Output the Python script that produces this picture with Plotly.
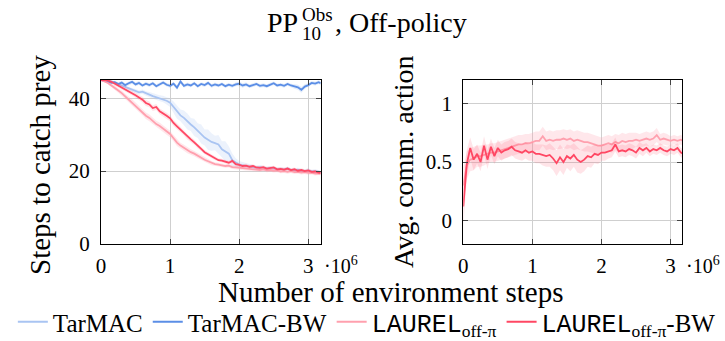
import plotly.graph_objects as go

# ---------------- data ----------------
steps_m = [0.00, 0.05, 0.10, 0.15, 0.20, 0.25, 0.30, 0.35, 0.40, 0.45,
           0.50, 0.55, 0.60, 0.65, 0.70, 0.75, 0.80, 0.85, 0.90, 0.95,
           1.00, 1.05, 1.10, 1.15, 1.20, 1.25, 1.30, 1.35, 1.40, 1.45,
           1.50, 1.55, 1.60, 1.65, 1.70, 1.75, 1.80, 1.85, 1.90, 1.95,
           2.00, 2.05, 2.10, 2.15, 2.20, 2.25, 2.30, 2.35, 2.40, 2.45,
           2.50, 2.55, 2.60, 2.65, 2.70, 2.75, 2.80, 2.85, 2.90, 2.95,
           3.00, 3.05, 3.10, 3.15, 3.18]
steps = [s * 1e6 for s in steps_m]

# Steps to catch prey (mean)
tarmac_steps = [45.0, 45.0, 44.8, 44.6, 44.2, 43.9, 43.4, 43.0, 42.6, 42.3,
                42.0, 41.6, 41.8, 41.3, 41.0, 40.6, 40.3, 40.0, 39.8, 39.3,
                38.8, 37.6, 36.2, 35.3, 34.6, 33.6, 32.8, 32.0, 31.1, 30.2,
                29.2, 28.6, 28.0, 27.7, 27.3, 26.0, 25.4, 24.8, 23.0, 22.3,
                21.8, 21.6, 21.3, 21.2, 21.0, 20.9, 21.1, 20.8, 20.7, 20.9,
                20.6, 20.5, 20.6, 20.4, 20.7, 20.3, 20.2, 20.4, 20.1, 20.0,
                20.2, 19.9, 20.0, 19.8, 19.7]
tarmac_steps_sd = [0.2, 0.2, 0.3, 0.3, 0.3, 0.4, 0.4, 0.4, 0.5, 0.5,
                   0.5, 0.6, 0.6, 0.6, 0.7, 0.7, 0.8, 0.8, 0.9, 1.0,
                   1.2, 1.5, 1.8, 1.6, 2.0, 2.2, 1.8, 2.4, 2.0, 2.6,
                   2.2, 2.8, 2.4, 2.0, 2.6, 2.2, 2.8, 2.0, 1.8, 1.2,
                   1.0, 0.9, 0.8, 0.7, 0.7, 0.6, 0.6, 0.6, 0.5, 0.5,
                   0.5, 0.5, 0.5, 0.5, 0.5, 0.5, 0.5, 0.5, 0.5, 0.5,
                   0.5, 0.5, 0.5, 0.5, 0.5]
tarmac_bw_steps = [45.0, 44.8, 44.6, 44.2, 44.4, 43.9, 44.3, 43.6, 44.1, 44.5,
                   43.8, 44.2, 43.5, 44.0, 43.6, 44.1, 43.3, 43.9, 44.3, 43.7,
                   43.4, 44.0, 42.9, 44.6, 43.4, 43.8, 43.5, 44.1, 43.3, 43.9,
                   43.6, 44.2, 43.4, 43.8, 43.5, 43.9, 43.3, 43.7, 43.4, 43.8,
                   44.0, 43.5, 43.8, 43.3, 43.7, 43.9, 43.4, 43.6, 43.3, 43.8,
                   44.1, 43.5, 43.7, 43.4, 43.9, 43.5, 43.2, 43.0, 42.3, 43.2,
                   43.6, 44.2, 44.0, 44.4, 44.1]
tarmac_bw_steps_sd = [0.2, 0.3, 0.4, 0.4, 0.4, 0.5, 0.5, 0.5, 0.5, 0.5,
                      0.5, 0.5, 0.5, 0.5, 0.5, 0.5, 0.5, 0.5, 0.5, 0.5,
                      0.5, 0.5, 0.6, 0.6, 0.5, 0.5, 0.5, 0.5, 0.5, 0.5,
                      0.5, 0.5, 0.5, 0.5, 0.5, 0.5, 0.5, 0.5, 0.5, 0.5,
                      0.6, 0.6, 0.5, 0.5, 0.5, 0.5, 0.5, 0.5, 0.5, 0.5,
                      0.5, 0.5, 0.5, 0.5, 0.5, 0.5, 0.6, 0.7, 0.8, 0.6,
                      0.5, 0.5, 0.5, 0.5, 0.5]
laurel_steps = [45.0, 44.7, 44.2, 43.5, 42.9, 42.1, 41.4, 40.5, 39.8, 38.9,
                38.0, 37.0, 36.2, 35.2, 34.6, 33.8, 32.9, 32.4, 31.6, 30.9,
                30.2, 29.0, 27.8, 27.0, 26.4, 25.7, 25.2, 24.8, 24.2, 23.6,
                23.1, 22.7, 22.2, 21.9, 21.8, 21.6, 21.4, 21.5, 21.1, 21.0,
                20.9, 20.7, 20.8, 20.5, 20.6, 20.4, 20.3, 20.5, 20.2, 20.3,
                20.1, 20.2, 19.9, 20.0, 19.8, 20.0, 19.7, 19.8, 19.6, 19.7,
                19.5, 19.6, 19.3, 19.4, 19.3]
laurel_steps_sd = [0.2, 0.3, 0.4, 0.5, 0.6, 0.6, 0.7, 0.7, 0.7, 0.8,
                   0.8, 0.8, 0.9, 0.9, 0.9, 0.9, 0.9, 0.9, 0.9, 0.9,
                   0.9, 0.9, 0.9, 0.8, 0.8, 0.8, 0.8, 0.7, 0.7, 0.7,
                   0.6, 0.6, 0.6, 0.5, 0.5, 0.5, 0.5, 0.5, 0.5, 0.5,
                   0.5, 0.5, 0.5, 0.5, 0.5, 0.5, 0.5, 0.5, 0.5, 0.5,
                   0.5, 0.5, 0.5, 0.5, 0.5, 0.5, 0.5, 0.5, 0.5, 0.5,
                   0.5, 0.5, 0.5, 0.5, 0.5]
laurel_bw_steps = [45.0, 45.0, 44.9, 44.5, 44.0, 43.5, 43.0, 42.4, 41.9, 41.5,
                   40.8, 40.2, 39.6, 38.7, 38.3, 37.3, 37.6, 36.4, 35.9, 35.2,
                   34.5, 33.2, 32.3, 31.4, 30.5, 29.4, 28.7, 27.9, 26.9, 26.1,
                   25.2, 24.6, 24.1, 23.5, 23.0, 22.9, 22.6, 22.3, 22.8, 21.9,
                   21.7, 21.4, 21.5, 21.2, 21.4, 21.0, 20.9, 21.1, 20.7, 20.8,
                   21.0, 20.5, 20.6, 20.4, 20.7, 20.3, 20.5, 20.1, 20.3, 20.0,
                   20.2, 19.8, 19.9, 19.6, 19.5]
laurel_bw_steps_sd = [0.2, 0.3, 0.3, 0.4, 0.5, 0.5, 0.6, 0.6, 0.6, 0.7,
                      0.7, 0.7, 0.8, 0.8, 0.8, 0.8, 0.8, 0.8, 0.8, 0.8,
                      0.8, 0.8, 0.8, 0.8, 0.7, 0.7, 0.7, 0.7, 0.7, 0.6,
                      0.6, 0.6, 0.6, 0.5, 0.5, 0.5, 0.5, 0.5, 0.5, 0.5,
                      0.5, 0.5, 0.5, 0.5, 0.5, 0.5, 0.5, 0.5, 0.5, 0.5,
                      0.5, 0.5, 0.5, 0.5, 0.5, 0.5, 0.5, 0.5, 0.5, 0.5,
                      0.5, 0.5, 0.5, 0.5, 0.5]

# Avg. comm. action (mean)
laurel_comm = [0.30, 0.47, 0.52, 0.53, 0.55, 0.55, 0.56, 0.57, 0.58, 0.58,
               0.59, 0.60, 0.61, 0.62, 0.63, 0.64, 0.65, 0.65, 0.66, 0.66,
               0.67, 0.68, 0.68, 0.72, 0.68, 0.69, 0.68, 0.69, 0.69, 0.70,
               0.69, 0.70, 0.68, 0.69, 0.68, 0.67, 0.67, 0.66, 0.65, 0.64,
               0.64, 0.65, 0.66, 0.65, 0.67, 0.66, 0.68, 0.67, 0.68, 0.68,
               0.69, 0.68, 0.69, 0.70, 0.69, 0.70, 0.73, 0.69, 0.70, 0.69,
               0.68, 0.69, 0.68, 0.69, 0.68]
laurel_comm_sd = [0.15, 0.12, 0.10, 0.10, 0.09, 0.09, 0.09, 0.08, 0.08, 0.08,
                  0.08, 0.08, 0.08, 0.08, 0.08, 0.08, 0.08, 0.08, 0.08, 0.08,
                  0.08, 0.08, 0.08, 0.08, 0.08, 0.08, 0.08, 0.08, 0.08, 0.08,
                  0.08, 0.08, 0.08, 0.08, 0.08, 0.08, 0.08, 0.08, 0.08, 0.08,
                  0.07, 0.07, 0.07, 0.07, 0.07, 0.07, 0.07, 0.07, 0.07, 0.07,
                  0.06, 0.06, 0.06, 0.06, 0.06, 0.06, 0.06, 0.05, 0.05, 0.05,
                  0.04, 0.04, 0.04, 0.04, 0.04]
laurel_bw_comm = [0.12, 0.48, 0.62, 0.52, 0.57, 0.50, 0.64, 0.52, 0.63, 0.55,
                  0.62, 0.58, 0.60, 0.61, 0.63, 0.60, 0.59, 0.58, 0.60, 0.58,
                  0.59, 0.57, 0.57, 0.56, 0.55, 0.56, 0.53, 0.49, 0.54, 0.50,
                  0.55, 0.53, 0.56, 0.52, 0.50, 0.52, 0.55, 0.54, 0.57, 0.56,
                  0.58, 0.58, 0.59, 0.60, 0.65, 0.59, 0.60, 0.59, 0.61, 0.60,
                  0.58, 0.62, 0.60, 0.62, 0.59, 0.61, 0.60, 0.62, 0.60, 0.59,
                  0.61, 0.60, 0.62, 0.58, 0.57]
laurel_bw_comm_sd = [0.18, 0.12, 0.09, 0.09, 0.08, 0.08, 0.08, 0.08, 0.07, 0.07,
                     0.07, 0.07, 0.07, 0.07, 0.07, 0.07, 0.07, 0.07, 0.07, 0.07,
                     0.08, 0.08, 0.08, 0.09, 0.09, 0.10, 0.10, 0.11, 0.11, 0.11,
                     0.10, 0.11, 0.10, 0.11, 0.10, 0.10, 0.09, 0.09, 0.08, 0.08,
                     0.07, 0.07, 0.06, 0.06, 0.06, 0.05, 0.05, 0.05, 0.05, 0.05,
                     0.05, 0.05, 0.05, 0.04, 0.04, 0.04, 0.04, 0.04, 0.04, 0.04,
                     0.04, 0.04, 0.04, 0.04, 0.04]

x_tickvals = [0, 1e6, 2e6, 3e6]
x_ticktext = ["0", "1", "2", "3"]
left_yticks = [0, 20, 40]
right_yticks = [0, 0.5, 1]
right_yticktext = ["0", "0.5", "1"]

# ---------------- style ----------------
C_TARMAC = "#a9c4f2"
C_TARMAC_BW = "#5b8ee6"
C_LAUREL = "#ffa0ae"
C_LAUREL_BW = "#ff4763"
F_TARMAC = "rgba(169,196,242,0.22)"
F_TARMAC_BW = "rgba(91,142,230,0.18)"
F_LAUREL = "rgba(255,160,174,0.25)"
F_LAUREL_BW = "rgba(255,71,99,0.15)"

SERIF = "Liberation Serif"

laurel_lbl = "<span style=\"font-family:'Liberation Mono', monospace\">LAUREL</span><sub>off-π</sub>"
labels = ["TarMAC", "TarMAC-BW", laurel_lbl, laurel_lbl + "-BW"]

fig = go.Figure()


def add_series(xa, ya, y, sd, line_c, fill_c, name, showleg):
    up = [m + s for m, s in zip(y, sd)]
    lo = [m - s for m, s in zip(y, sd)]
    fig.add_trace(go.Scatter(x=steps + steps[::-1], y=up + lo[::-1], fill="toself",
                             fillcolor=fill_c, line=dict(width=0), hoverinfo="skip",
                             showlegend=False, xaxis=xa, yaxis=ya))
    fig.add_trace(go.Scatter(x=steps, y=y, mode="lines", name=name,
                             line=dict(color=line_c, width=1.8),
                             showlegend=showleg, xaxis=xa, yaxis=ya))


add_series("x", "y", tarmac_steps, tarmac_steps_sd, C_TARMAC, F_TARMAC, labels[0], True)
add_series("x", "y", tarmac_bw_steps, tarmac_bw_steps_sd, C_TARMAC_BW, F_TARMAC_BW, labels[1], True)
add_series("x", "y", laurel_steps, laurel_steps_sd, C_LAUREL, F_LAUREL, labels[2], True)
add_series("x", "y", laurel_bw_steps, laurel_bw_steps_sd, C_LAUREL_BW, F_LAUREL_BW, labels[3], True)
add_series("x2", "y2", laurel_comm, laurel_comm_sd, C_LAUREL, F_LAUREL, labels[2], False)
add_series("x2", "y2", laurel_bw_comm, laurel_bw_comm_sd, C_LAUREL_BW, F_LAUREL_BW, labels[3], False)

W, H = 725, 341


def px(xp):
    return xp / W


def py(yp):
    return 1 - yp / H


axis_common = dict(showline=True, linecolor="black", linewidth=1, mirror="ticks",
                   ticks="inside", ticklen=5, tickcolor="#444", tickwidth=1,
                   showgrid=True, gridcolor="#cfcfcf", gridwidth=1.2, zeroline=False,
                   automargin=False,
                   tickfont=dict(family=SERIF, size=21, color="black"))

fig.update_layout(
    width=W, height=H, margin=dict(l=0, r=0, t=0, b=0, autoexpand=False),
    paper_bgcolor="white", plot_bgcolor="white",
    xaxis=dict(domain=[px(101), px(320.7)], range=[0, 3.18e6], tickvals=x_tickvals,
               ticktext=x_ticktext, anchor="y", ticklabelstandoff=3, **axis_common),
    yaxis=dict(domain=[py(244), py(80)], range=[0, 45], tickvals=left_yticks,
               anchor="x", ticklabelstandoff=6, **axis_common),
    xaxis2=dict(domain=[px(463.3), px(682.3)], range=[0, 3.17e6], tickvals=x_tickvals,
                ticktext=x_ticktext, anchor="y2", ticklabelstandoff=3, **axis_common),
    yaxis2=dict(domain=[py(244), py(80)], range=[-0.2, 1.2], tickvals=right_yticks,
                ticktext=right_yticktext, anchor="x2", ticklabelstandoff=6, **axis_common),
    showlegend=True,
    legend=dict(orientation="h", x=0.506, xanchor="center", y=py(322), yanchor="middle",
                font=dict(family=SERIF, size=25, color="black"), itemwidth=30,
                tracegroupgap=0, bgcolor="rgba(0,0,0,0)", traceorder="normal"),
)

ann = []


def txt(text, x, y, size, xanchor="center", yanchor="middle", angle=0):
    ann.append(dict(text=text, x=px(x), y=py(y), xref="paper", yref="paper",
                    showarrow=False, xanchor=xanchor, yanchor=yanchor, textangle=angle,
                    font=dict(family=SERIF, size=size, color="black")))


# title pieces
txt("PP", 300, 23, 28, xanchor="right")
txt("Obs", 300, 15, 19, xanchor="left")
txt("10", 300, 33, 19, xanchor="left")
txt(", Off-policy", 333, 23, 28, xanchor="left")
# axis titles
txt("Steps to catch prey", 40, 165, 29, angle=-90)
txt("Avg. comm. action", 403, 162, 28, angle=-90)
txt("Number of environment steps", 391, 292, 29)
# multiplier labels
txt("·10<sup>6</sup>", 322, 265, 20, xanchor="left")
txt("·10<sup>6</sup>", 684, 265, 20, xanchor="left")

fig.update_layout(annotations=ann)
fig.write_html("out.html", config={"displayModeBar": False},
               post_script="document.body.style.margin='0';document.body.style.padding='0';"
                           "document.body.style.overflow='hidden';")
